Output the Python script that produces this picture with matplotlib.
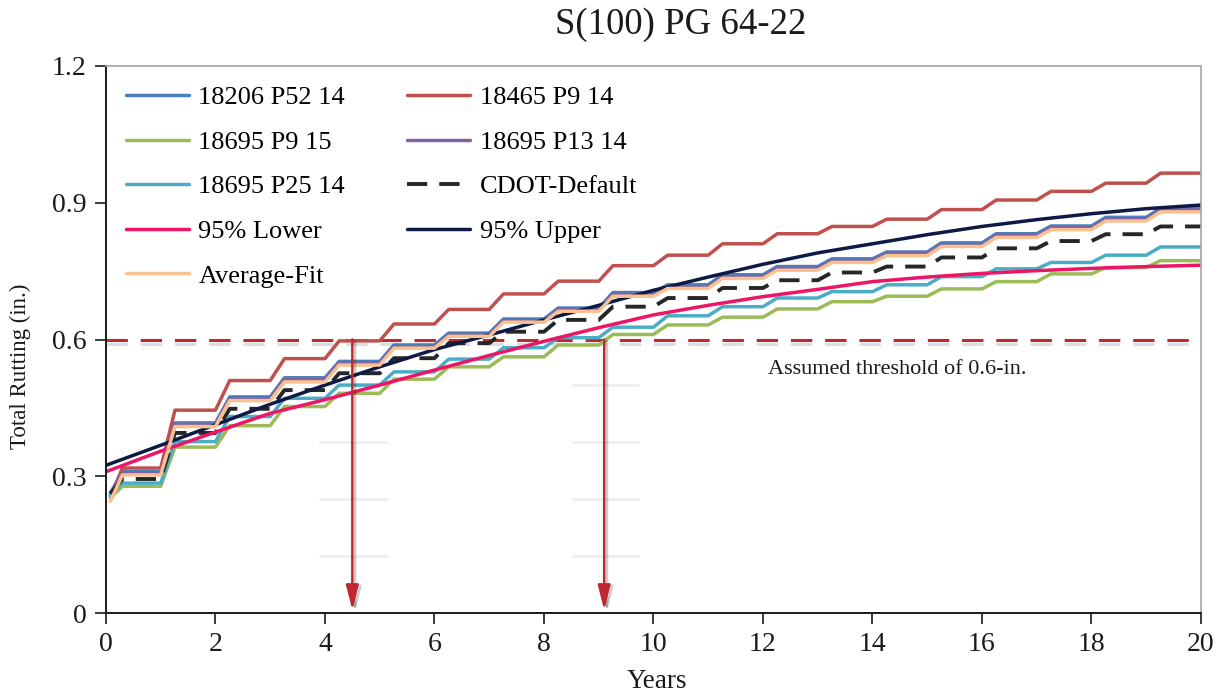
import matplotlib
matplotlib.use("Agg")
import matplotlib.pyplot as plt
import matplotlib.patheffects as pe
import numpy as np

plt.rcParams['font.family'] = ['Liberation Serif', 'DejaVu Serif']

# yearly plateau levels (rut depth after each summer), years 0..19
years = list(range(20))
start_x = 0.08
p52_start, p52 = 0.263, [0.310, 0.417, 0.474, 0.516, 0.552, 0.588, 0.614, 0.645, 0.669, 0.703,
                         0.720, 0.742, 0.760, 0.777, 0.792, 0.812, 0.832, 0.849, 0.868, 0.888]
p9_14_start, p9_14 = 0.254, [0.318, 0.445, 0.510, 0.558, 0.597, 0.634, 0.666, 0.700, 0.728, 0.762,
                             0.785, 0.810, 0.832, 0.848, 0.864, 0.885, 0.906, 0.925, 0.943, 0.965]
p9_15_start, p9_15 = 0.252, [0.278, 0.364, 0.411, 0.453, 0.482, 0.513, 0.540, 0.562, 0.588, 0.611,
                             0.632, 0.649, 0.667, 0.683, 0.695, 0.711, 0.727, 0.744, 0.758, 0.773]
p13_start, p13 = 0.260, [0.307, 0.414, 0.470, 0.512, 0.548, 0.584, 0.610, 0.641, 0.665, 0.699,
                         0.716, 0.738, 0.756, 0.773, 0.788, 0.808, 0.828, 0.845, 0.864, 0.884]
p25_start, p25 = 0.258, [0.285, 0.376, 0.431, 0.471, 0.500, 0.529, 0.557, 0.582, 0.604, 0.627,
                         0.652, 0.672, 0.691, 0.705, 0.720, 0.738, 0.755, 0.769, 0.785, 0.803]
cdot_start, cdot = 0.262, [0.294, 0.395, 0.448, 0.489, 0.526, 0.559, 0.592, 0.617, 0.643, 0.672,
                           0.691, 0.713, 0.730, 0.747, 0.760, 0.780, 0.800, 0.816, 0.831, 0.848]
avg_start, avg = 0.245, [0.303, 0.409, 0.466, 0.507, 0.544, 0.581, 0.607, 0.638, 0.662, 0.695,
                         0.712, 0.734, 0.752, 0.769, 0.784, 0.804, 0.824, 0.841, 0.860, 0.880]

# smooth confidence bounds, read at whole years 0..20
bound_years = list(range(21))
lower95 = [0.310, 0.355, 0.397, 0.438, 0.468, 0.500, 0.533, 0.565, 0.596, 0.626, 0.654,
           0.675, 0.694, 0.710, 0.727, 0.737, 0.745, 0.751, 0.756, 0.760, 0.763]
upper95 = [0.324, 0.368, 0.413, 0.458, 0.500, 0.540, 0.578, 0.610, 0.643, 0.675, 0.708,
           0.737, 0.765, 0.790, 0.810, 0.830, 0.848, 0.863, 0.876, 0.887, 0.895]

threshold = 0.6
arrow_years = [4.5, 9.1]
# faint leftover grid marks in the original image
ghost_y = [0.5, 0.375, 0.25, 0.125]
ghost_x = [(3.91, 5.13), (8.53, 9.72)]


def stepped(start, levels, ramp=0.26):
    xs, ys = [start_x], [start]
    for k, v in zip(years, levels):
        xs.append(0.3 if k == 0 else k + ramp)
        ys.append(v)
        xs.append(k + 1 if k < 19 else 20)
        ys.append(v)
    return xs, ys


fig = plt.figure(figsize=(12.28, 6.94), dpi=100)
ax = fig.add_axes([0.0863, 0.1167, 0.8917, 0.7882])

for y in ghost_y:
    for x0, x1 in ghost_x:
        ax.plot([x0, x1], [y, y], color='#efefef', lw=2, zorder=0.5)

lw = 2.5
kw = dict(lw=lw, solid_joinstyle='round', solid_capstyle='round')
h = {}
h['p52'], = ax.plot(*stepped(p52_start, p52), color='#4A7EBB', label='18206 P52 14', **kw)
h['p9_14'], = ax.plot(*stepped(p9_14_start, p9_14), color='#C0504D', label='18465 P9 14', **kw)
h['p9_15'], = ax.plot(*stepped(p9_15_start, p9_15), color='#9BBB59', label='18695 P9 15', **kw)
h['p13'], = ax.plot(*stepped(p13_start, p13), color='#8064A2', label='18695 P13 14', **kw)
h['p25'], = ax.plot(*stepped(p25_start, p25), color='#4BACC6', label='18695 P25 14', **kw)
h['cdot'], = ax.plot(*stepped(cdot_start, cdot), color='#262626', lw=2.8, dashes=(5.2, 3.1),
                     label='CDOT-Default')
h['lo'], = ax.plot(bound_years, lower95, color='#EE1566', label='95% Lower', **kw)
h['up'], = ax.plot(bound_years, upper95, color='#0C1A45', label='95% Upper', **kw)
h['avg'], = ax.plot(*stepped(avg_start, avg), color='#FAC090', label='Average-Fit', **kw)

shadow = [pe.SimpleLineShadow(offset=(0, -3), shadow_color='#9aa0a8', alpha=0.35), pe.Normal()]
ax.axhline(threshold, color='#C0282D', lw=2.2, dashes=(7, 4.2), zorder=1.5,
           path_effects=shadow)
for xa in arrow_years:
    ax.annotate('', xy=(xa, 0.006), xytext=(xa, threshold),
                arrowprops=dict(arrowstyle='-|>,head_length=1.5,head_width=0.38',
                                color='#C0282D', lw=1.8, shrinkA=0, shrinkB=0,
                                path_effects=[pe.SimpleLineShadow(offset=(2, -1), alpha=0.2),
                                              pe.Normal()]))

ax.text(12.1, 0.535, 'Assumed threshold of 0.6-in.', fontsize=16, va='center', ha='left',
        color='#1a1a1a')

ax.set_xlim(0, 20)
ax.set_ylim(0, 1.2)
ax.set_xticks(range(0, 21, 2))
ax.set_yticks([0, 0.3, 0.6, 0.9, 1.2])
ax.set_yticklabels(['0', '0.3', '0.6', '0.9', '1.2'])
ax.tick_params(axis='both', direction='out', length=8, width=1.2, labelsize=20,
               colors='#1a1a1a', pad=6)
for s in ['top', 'right']:
    ax.spines[s].set_color('#a6a6a6')
    ax.spines[s].set_linewidth(1.2)
for s in ['left', 'bottom']:
    ax.spines[s].set_color('#1a1a1a')
    ax.spines[s].set_linewidth(1.4)

# legend filled row by row, as in the original
order = ['p52', 'p9_15', 'p25', 'lo', 'avg', 'p9_14', 'p13', 'cdot', 'up']
ax.legend([h[k] for k in order], [h[k].get_label() for k in order],
          loc='upper left', bbox_to_anchor=(0.0, 1.0), ncol=2, frameon=False,
          fontsize=19, handlelength=2.4, handletextpad=0.35, columnspacing=2.35,
          labelspacing=0.8, borderaxespad=0.35)

fig.text(0.554, 0.964, 'S(100) PG 64-22', fontsize=26.5, ha='center', va='center',
         color='#1a1a1a')
fig.text(0.535, 0.018, 'Years', fontsize=19.5, ha='center', va='center', color='#1a1a1a')
fig.text(0.017, 0.472, 'Total Rutting (in.)', fontsize=16.5, ha='center', va='center',
         rotation=90, color='#1a1a1a')

fig.savefig('out.png', dpi=100)
